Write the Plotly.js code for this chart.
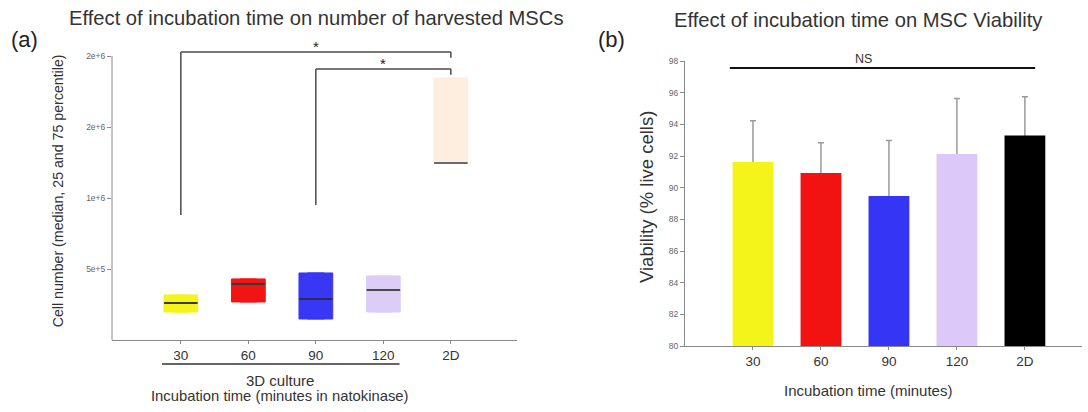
<!DOCTYPE html>
<html>
<head>
<meta charset="utf-8">
<script src="https://cdn.plot.ly/plotly-3.0.1.min.js"></script>
<style>html,body{margin:0;padding:0;background:#fff;}#chart{width:1088px;height:412px;}</style>
</head>
<body>
<div id="chart"></div>
<script>
// ---- Data (a): harvested cell number, median with 25th / 75th percentile ----
const categories = ['30', '60', '90', '120', '2D'];
const q1Values = [197000, 268000, 148000, 197000, 1246000];
const medianValues = [261000, 394000, 289000, 352000, 1246000];
const q3Values = [317000, 430000, 472000, 451000, 1845000];
const boxColors = ['#f4f41c', '#f21414', '#3838f4', '#dccdf6', '#fdeee0'];
const medianColors = ['#3a3a3a', '#3a3a3a', '#2a2a4a', '#4a4a4a', '#6a6a6a'];
const cellTickVals = [500000, 1000000, 1500000, 2000000];
const cellTickText = ['5e+5', '1e+6', '2e+6', '2e+6'];
const cellAxisMax = 2100000;

// significance brackets for (a)
const bracketFrom = ['30', '90'];
const bracketTo = ['2D', '2D'];
const bracketTop = [2028000, 1908000];
const bracketBase = [880000, 950000];
const bracketLabel = ['*', '*'];

// ---- Data (b): viability (% live cells), mean + SD ----
const viability = [91.62, 90.93, 89.48, 92.13, 93.30];
const viabilityErr = [2.6, 1.9, 3.5, 3.5, 2.45];
const barColors = ['#f4f41a', '#f21212', '#3535f5', '#dcc9f9', '#000000'];
const viabTickVals = [80, 82, 84, 86, 88, 90, 92, 94, 96, 98];
const nsLevel = 97.56;
const nsLabel = 'NS';

const FONT = 'Liberation Sans, Arial, Helvetica, sans-serif';
const AXC = '#8a8a8a';

const traces = [];
categories.forEach((c, i) => {
  traces.push({
    type: 'box', x: [c], q1: [q1Values[i]], median: [medianValues[i]], q3: [q3Values[i]],
    lowerfence: [q1Values[i]], upperfence: [q3Values[i]],
    width: 0.5, fillcolor: boxColors[i], line: {color: boxColors[i], width: 1},
    boxpoints: false, showlegend: false, hoverinfo: 'skip', xaxis: 'x', yaxis: 'y'
  });
});
traces.push({
  type: 'scatter', mode: 'markers', x: categories, y: medianValues,
  marker: {symbol: 'line-ew', size: 24, color: medianColors, line: {color: medianColors, width: 2}},
  showlegend: false, hoverinfo: 'skip', xaxis: 'x', yaxis: 'y'
});
// error bars (upper SD); drawn first so the bars below cover their lower end
traces.push({
  type: 'bar', x: categories, y: viability, width: 0.6,
  marker: {color: 'rgba(0,0,0,0)', line: {width: 0}},
  error_y: {type: 'data', symmetric: false, array: viabilityErr, arrayminus: viabilityErr.map(() => 0.4),
            color: '#9a9a9a', thickness: 1.5, width: 3},
  showlegend: false, hoverinfo: 'skip', xaxis: 'x2', yaxis: 'y2'
});
traces.push({
  type: 'bar', x: categories, y: viability, width: 0.6,
  marker: {color: barColors, line: {width: 0}},
  showlegend: false, hoverinfo: 'skip', xaxis: 'x2', yaxis: 'y2'
});

const leftDomX = [112 / 1088, 517 / 1088];
const rightDomX = [685 / 1088, 1082 / 1088];

const shapes = [];
// y-axis line of (a), from 0 to the top tick
shapes.push({type: 'line', xref: 'x domain', yref: 'y domain', x0: 0, x1: 0, y0: 0,
             y1: cellTickVals[cellTickVals.length - 1] / cellAxisMax, line: {color: AXC, width: 1}});
bracketFrom.forEach((f, i) => {
  const a = categories.indexOf(f), b = categories.indexOf(bracketTo[i]);
  const ln = {color: '#4a4a4a', width: 1.5};
  shapes.push({type: 'line', xref: 'x', yref: 'y', x0: a, x1: a, y0: bracketBase[i], y1: bracketTop[i], line: ln});
  shapes.push({type: 'line', xref: 'x', yref: 'y', x0: a, x1: b, y0: bracketTop[i], y1: bracketTop[i], line: ln});
  shapes.push({type: 'line', xref: 'x', yref: 'y', x0: b, x1: b, y0: bracketTop[i], y1: bracketTop[i] - 40000, line: ln});
});
// underline for the 3D culture group
shapes.push({type: 'line', xref: 'x', yref: 'paper', x0: -0.28, x1: 3.24, y0: 1 - 364 / 412, y1: 1 - 364 / 412,
             line: {color: '#333', width: 1.5}});
// NS line in (b)
shapes.push({type: 'line', xref: 'x2', yref: 'y2', x0: -0.34, x1: 4.15, y0: nsLevel, y1: nsLevel,
             line: {color: '#111', width: 2}});

const annotations = [];
bracketFrom.forEach((f, i) => {
  const a = categories.indexOf(f), b = categories.indexOf(bracketTo[i]);
  annotations.push({xref: 'x', yref: 'y', x: (a + b) / 2, y: bracketTop[i], text: bracketLabel[i],
                    showarrow: false, yanchor: 'bottom', yshift: -5, font: {family: FONT, size: 15, color: '#222'}});
});
annotations.push({xref: 'paper', yref: 'paper', x: 316 / 1088, y: 1 - 18 / 412, xanchor: 'center', yanchor: 'middle',
  text: 'Effect of incubation time on number of harvested MSCs', showarrow: false, font: {family: FONT, size: 20.2, color: '#333'}});
annotations.push({xref: 'paper', yref: 'paper', x: 858 / 1088, y: 1 - 20 / 412, xanchor: 'center', yanchor: 'middle',
  text: 'Effect of incubation time on MSC Viability', showarrow: false, font: {family: FONT, size: 20.2, color: '#333'}});
annotations.push({xref: 'paper', yref: 'paper', x: 24 / 1088, y: 1 - 40 / 412, xanchor: 'center', yanchor: 'middle',
  text: '(a)', showarrow: false, font: {family: FONT, size: 22, color: '#222'}});
annotations.push({xref: 'paper', yref: 'paper', x: 611 / 1088, y: 1 - 40 / 412, xanchor: 'center', yanchor: 'middle',
  text: '(b)', showarrow: false, font: {family: FONT, size: 22, color: '#222'}});
annotations.push({xref: 'x', yref: 'paper', x: 1.47, y: 1 - 380 / 412, xanchor: 'center', yanchor: 'middle',
  text: '3D culture', showarrow: false, font: {family: FONT, size: 15, color: '#333'}});
annotations.push({xref: 'x', yref: 'paper', x: 1.47, y: 1 - 396 / 412, xanchor: 'center', yanchor: 'middle',
  text: 'Incubation time (minutes in natokinase)', showarrow: false, font: {family: FONT, size: 14.8, color: '#333'}});
annotations.push({xref: 'x2', yref: 'paper', x: 1.69, y: 1 - 390 / 412, xanchor: 'center', yanchor: 'middle',
  text: 'Incubation time (minutes)', showarrow: false, font: {family: FONT, size: 15, color: '#333'}});
annotations.push({xref: 'paper', yref: 'paper', x: 646 / 1088, y: 1 - 197 / 412, xanchor: 'center', yanchor: 'middle',
  textangle: -90, text: 'Viability (% live cells)', showarrow: false, font: {family: FONT, size: 18.5, color: '#333'}});
annotations.push({xref: 'x2', yref: 'y2', x: 1.62, y: nsLevel, xanchor: 'center', yanchor: 'bottom',
  text: nsLabel, showarrow: false, font: {family: FONT, size: 12.5, color: '#333'}});

const layout = {
  width: 1088, height: 412,
  margin: {l: 0, r: 0, t: 0, b: 0},
  paper_bgcolor: '#fff', plot_bgcolor: 'rgba(0,0,0,0)',
  font: {family: FONT, color: '#333'},
  showlegend: false,
  boxmode: 'overlay',
  barmode: 'overlay',
  xaxis: {
    domain: leftDomX, anchor: 'y', type: 'category', categoryorder: 'array', categoryarray: categories,
    range: [-1.02, 4.98], showgrid: false, zeroline: false, showline: true, linecolor: AXC, linewidth: 1,
    ticks: 'outside', ticklen: 3, tickcolor: AXC, tickfont: {family: FONT, size: 13.5, color: '#333'}
  },
  yaxis: {
    domain: [1 - 340 / 412, 1 - 41.8 / 412], anchor: 'x', range: [0, cellAxisMax],
    showgrid: false, zeroline: false, showline: false,
    tickvals: cellTickVals, ticktext: cellTickText, ticks: 'outside', ticklen: 4, tickcolor: AXC,
    tickfont: {family: FONT, size: 8.5, color: '#666'},
    title: {text: 'Cell number (median, 25 and 75 percentile)', standoff: 19, font: {family: FONT, size: 14.2, color: '#333'}}
  },
  xaxis2: {
    domain: rightDomX, anchor: 'y2', type: 'category', categoryorder: 'array', categoryarray: categories,
    range: [-1.0, 4.84], showgrid: false, zeroline: false, showline: true, linecolor: AXC, linewidth: 1,
    ticks: 'outside', ticklen: 3, tickcolor: AXC, tickfont: {family: FONT, size: 13.5, color: '#333'}
  },
  yaxis2: {
    domain: [1 - 346 / 412, 1 - 61 / 412], anchor: 'x2', range: [80, 98],
    showgrid: false, zeroline: false, showline: true, linecolor: AXC, linewidth: 1,
    tickvals: viabTickVals, ticks: 'outside', ticklen: 4, tickcolor: AXC,
    tickfont: {family: FONT, size: 8.5, color: '#666'}
  },
  shapes: shapes,
  annotations: annotations
};

Plotly.newPlot('chart', traces, layout, {staticPlot: true, displayModeBar: false});
</script>
</body>
</html>
